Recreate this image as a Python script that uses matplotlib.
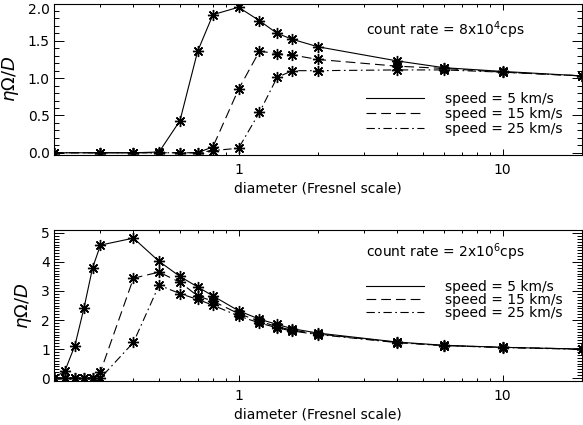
import numpy as np
import matplotlib
matplotlib.use("Agg")
import matplotlib.pyplot as plt
from matplotlib.lines import Line2D
from matplotlib.ticker import MultipleLocator, LogLocator, FixedLocator, FixedFormatter, NullFormatter

plt.rcParams['font.family'] = ['DejaVu Sans']
plt.rcParams['mathtext.fontset'] = 'dejavusans'
plt.rcParams['lines.scale_dashes'] = False

# diameters (Fresnel scale)
d_top = [0.2, 0.3, 0.4, 0.5, 0.6, 0.7, 0.8, 1.0, 1.2, 1.4, 1.6, 2, 4, 6, 10, 20]
top_5 = [0.0, 0.0, 0.0, 0.01, 0.43, 1.36, 1.85, 1.95, 1.77, 1.60, 1.52, 1.42, 1.23, 1.14, 1.09, 1.03]
top_15 = [0.0, 0.0, 0.0, 0.0, 0.0, 0.0, 0.08, 0.85, 1.36, 1.33, 1.31, 1.25, 1.16, 1.13, 1.08, 1.03]
top_25 = [0.0, 0.0, 0.0, 0.0, 0.0, 0.0, 0.03, 0.06, 0.54, 1.01, 1.10, 1.10, 1.11, 1.11, 1.08, 1.03]

d_bot = [0.2, 0.22, 0.24, 0.26, 0.28, 0.3, 0.4, 0.5, 0.6, 0.7, 0.8, 1.0, 1.2, 1.4, 1.6, 2, 4, 6, 10, 20]
bot_5 = [0.0, 0.25, 1.12, 2.43, 3.8, 4.58, 4.82, 4.02, 3.5, 3.14, 2.83, 2.32, 2.03, 1.85, 1.70, 1.55, 1.24, 1.13, 1.06, 1.0]
bot_15 = [0.0, 0.0, 0.0, 0.0, 0.0, 0.22, 3.44, 3.65, 3.3, 2.83, 2.65, 2.22, 1.96, 1.77, 1.65, 1.52, 1.23, 1.12, 1.06, 1.0]
bot_25 = [0.0, 0.0, 0.0, 0.0, 0.0, 0.0, 1.23, 3.2, 2.91, 2.71, 2.51, 2.14, 1.9, 1.73, 1.62, 1.5, 1.22, 1.12, 1.05, 0.99]

speeds = ["speed = 5 km/s", "speed = 15 km/s", "speed = 25 km/s"]
styles = ['-', (0, (7, 3.6)), (0, (6, 2.5, 1.2, 2.5))]
rates = ["count rate = 8x10$^4$cps", "count rate = 2x10$^6$cps"]

fig = plt.figure(figsize=(5.83, 4.25), dpi=100)
ax1 = fig.add_axes([54/583, 1-155/425, 528/583, 151.5/425])
ax2 = fig.add_axes([54/583, 1-381/425, 528/583, 151/425])

star = (8, 2, 0)
fs = 10

def setup(ax, series, x, ylim, ymajor, yfmt, rate, rate_y, leg_y, leg_sp):
    for y, ls in zip(series, styles):
        ax.plot(x, y, color='black', lw=0.8, linestyle=ls, marker=star,
                markersize=8, markeredgewidth=1.0)
    ax.set_xscale('log')
    ax.set_xlim(0.2, 20)
    ax.set_ylim(*ylim)
    ax.xaxis.set_major_locator(FixedLocator([1, 10]))
    ax.xaxis.set_major_formatter(FixedFormatter(['1', '10']))
    ax.xaxis.set_minor_locator(LogLocator(base=10, subs=np.arange(2, 10)))
    ax.xaxis.set_minor_formatter(NullFormatter())
    ax.yaxis.set_major_locator(MultipleLocator(ymajor))
    ax.yaxis.set_minor_locator(MultipleLocator(0.1))
    ax.yaxis.set_major_formatter(yfmt)
    ax.tick_params(which='both', direction='in', top=True, right=True, labelsize=fs, width=0.7)
    ax.tick_params(axis='y', which='major', length=7, pad=3)
    ax.tick_params(axis='y', which='minor', length=3.6)
    ax.tick_params(axis='x', which='major', length=4.5, pad=6)
    ax.tick_params(axis='x', which='minor', length=2.3)
    for s in ax.spines.values():
        s.set_linewidth(0.8)
    ax.set_xlabel("diameter (Fresnel scale)", fontsize=fs, labelpad=3)
    ax.set_ylabel(r"$\eta\Omega/D$", fontsize=13, labelpad=5)
    ax.text(0.59, rate_y, rate, transform=ax.transAxes, fontsize=fs, va='center')
    handles = [Line2D([], [], color='black', lw=0.8, linestyle=ls) for ls in styles]
    ax.legend(handles, speeds, loc='upper left', bbox_to_anchor=(0.59, leg_y),
              frameon=False, fontsize=fs, handlelength=4.2, handletextpad=1.5,
              labelspacing=leg_sp, borderaxespad=0, borderpad=0)

setup(ax1, [top_5, top_15, top_25], d_top, (-0.03, 2.0), 0.5, '{x:.1f}', rates[0], 0.825, 0.415, 0.08)
setup(ax2, [bot_5, bot_15, bot_25], d_bot, (-0.1, 5.1), 1, '{x:.0f}', rates[1], 0.856, 0.67, -0.07)

# the top tick label of the upper panel sits inside the frame, as in the original
for lab in ax1.get_yticklabels():
    if lab.get_text() == '2.0':
        lab.set_va('top')

fig.savefig("out.png", dpi=100)
